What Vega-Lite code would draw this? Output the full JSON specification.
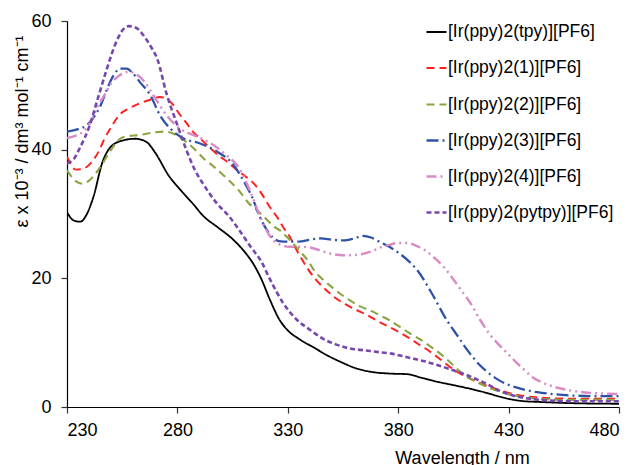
{
"$schema": "https://vega.github.io/schema/vega-lite/v6.json",
"autosize": {"type": "none"},
"padding": {"left": 67, "top": 21, "right": 16, "bottom": 58},
"width": 552,
"height": 386,
"background": "white",
"config": {
  "font": "Liberation Sans",
  "view": {"stroke": null},
  "axis": {"grid": false, "domainColor": "#000000", "tickColor": "#333333", "labelColor": "#000000", "titleColor": "#000000", "labelFont": "Liberation Sans", "titleFont": "Liberation Sans", "labelFontSize": 18, "titleFontSize": 18, "titleFontWeight": "normal", "tickSize": 6, "domainWidth": 1.2, "tickWidth": 1.2}
},
"data": {"values": [
{"s":"[Ir(ppy)2(tpy)][PF6]","x":230,"y":30.3},{"s":"[Ir(ppy)2(tpy)][PF6]","x":233,"y":29.0},{"s":"[Ir(ppy)2(tpy)][PF6]","x":236,"y":28.8},{"s":"[Ir(ppy)2(tpy)][PF6]","x":239,"y":30.0},{"s":"[Ir(ppy)2(tpy)][PF6]","x":242,"y":32.7},{"s":"[Ir(ppy)2(tpy)][PF6]","x":246,"y":38.0},{"s":"[Ir(ppy)2(tpy)][PF6]","x":250,"y":40.5},{"s":"[Ir(ppy)2(tpy)][PF6]","x":255,"y":41.4},{"s":"[Ir(ppy)2(tpy)][PF6]","x":261,"y":41.7},{"s":"[Ir(ppy)2(tpy)][PF6]","x":266,"y":41.2},{"s":"[Ir(ppy)2(tpy)][PF6]","x":270,"y":39.5},{"s":"[Ir(ppy)2(tpy)][PF6]","x":276,"y":36.0},{"s":"[Ir(ppy)2(tpy)][PF6]","x":282,"y":33.5},{"s":"[Ir(ppy)2(tpy)][PF6]","x":287,"y":31.6},{"s":"[Ir(ppy)2(tpy)][PF6]","x":292,"y":29.6},{"s":"[Ir(ppy)2(tpy)][PF6]","x":298,"y":28.0},{"s":"[Ir(ppy)2(tpy)][PF6]","x":305,"y":26.1},{"s":"[Ir(ppy)2(tpy)][PF6]","x":310,"y":24.3},{"s":"[Ir(ppy)2(tpy)][PF6]","x":315,"y":21.9},{"s":"[Ir(ppy)2(tpy)][PF6]","x":318,"y":19.9},{"s":"[Ir(ppy)2(tpy)][PF6]","x":322,"y":16.6},{"s":"[Ir(ppy)2(tpy)][PF6]","x":326,"y":13.7},{"s":"[Ir(ppy)2(tpy)][PF6]","x":330,"y":11.9},{"s":"[Ir(ppy)2(tpy)][PF6]","x":335,"y":10.6},{"s":"[Ir(ppy)2(tpy)][PF6]","x":342,"y":9.2},{"s":"[Ir(ppy)2(tpy)][PF6]","x":348,"y":8.0},{"s":"[Ir(ppy)2(tpy)][PF6]","x":354,"y":7.0},{"s":"[Ir(ppy)2(tpy)][PF6]","x":361,"y":6.0},{"s":"[Ir(ppy)2(tpy)][PF6]","x":369,"y":5.4},{"s":"[Ir(ppy)2(tpy)][PF6]","x":376,"y":5.2},{"s":"[Ir(ppy)2(tpy)][PF6]","x":384,"y":5.1},{"s":"[Ir(ppy)2(tpy)][PF6]","x":391,"y":4.5},{"s":"[Ir(ppy)2(tpy)][PF6]","x":398,"y":3.9},{"s":"[Ir(ppy)2(tpy)][PF6]","x":405,"y":3.4},{"s":"[Ir(ppy)2(tpy)][PF6]","x":413,"y":2.8},{"s":"[Ir(ppy)2(tpy)][PF6]","x":420,"y":2.2},{"s":"[Ir(ppy)2(tpy)][PF6]","x":426,"y":1.6},{"s":"[Ir(ppy)2(tpy)][PF6]","x":431,"y":1.2},{"s":"[Ir(ppy)2(tpy)][PF6]","x":437,"y":0.9},{"s":"[Ir(ppy)2(tpy)][PF6]","x":443,"y":0.8},{"s":"[Ir(ppy)2(tpy)][PF6]","x":458,"y":0.6},{"s":"[Ir(ppy)2(tpy)][PF6]","x":480,"y":0.5},
{"s":"[Ir(ppy)2(1)][PF6]","x":230,"y":38.9},{"s":"[Ir(ppy)2(1)][PF6]","x":234,"y":36.9},{"s":"[Ir(ppy)2(1)][PF6]","x":237,"y":37.0},{"s":"[Ir(ppy)2(1)][PF6]","x":241,"y":38.0},{"s":"[Ir(ppy)2(1)][PF6]","x":244,"y":39.5},{"s":"[Ir(ppy)2(1)][PF6]","x":247,"y":41.7},{"s":"[Ir(ppy)2(1)][PF6]","x":250,"y":43.5},{"s":"[Ir(ppy)2(1)][PF6]","x":254,"y":45.5},{"s":"[Ir(ppy)2(1)][PF6]","x":258,"y":46.4},{"s":"[Ir(ppy)2(1)][PF6]","x":263,"y":47.2},{"s":"[Ir(ppy)2(1)][PF6]","x":268,"y":47.8},{"s":"[Ir(ppy)2(1)][PF6]","x":272,"y":48.2},{"s":"[Ir(ppy)2(1)][PF6]","x":275,"y":47.9},{"s":"[Ir(ppy)2(1)][PF6]","x":278,"y":47.0},{"s":"[Ir(ppy)2(1)][PF6]","x":281,"y":45.5},{"s":"[Ir(ppy)2(1)][PF6]","x":284,"y":44.2},{"s":"[Ir(ppy)2(1)][PF6]","x":287,"y":42.8},{"s":"[Ir(ppy)2(1)][PF6]","x":291,"y":41.5},{"s":"[Ir(ppy)2(1)][PF6]","x":295,"y":40.2},{"s":"[Ir(ppy)2(1)][PF6]","x":299,"y":39.0},{"s":"[Ir(ppy)2(1)][PF6]","x":303,"y":38.0},{"s":"[Ir(ppy)2(1)][PF6]","x":307,"y":36.8},{"s":"[Ir(ppy)2(1)][PF6]","x":311,"y":35.8},{"s":"[Ir(ppy)2(1)][PF6]","x":315,"y":34.6},{"s":"[Ir(ppy)2(1)][PF6]","x":319,"y":32.7},{"s":"[Ir(ppy)2(1)][PF6]","x":322,"y":31.0},{"s":"[Ir(ppy)2(1)][PF6]","x":325,"y":29.6},{"s":"[Ir(ppy)2(1)][PF6]","x":328,"y":27.9},{"s":"[Ir(ppy)2(1)][PF6]","x":331,"y":26.4},{"s":"[Ir(ppy)2(1)][PF6]","x":334,"y":24.4},{"s":"[Ir(ppy)2(1)][PF6]","x":337,"y":22.6},{"s":"[Ir(ppy)2(1)][PF6]","x":340,"y":21.0},{"s":"[Ir(ppy)2(1)][PF6]","x":343,"y":19.7},{"s":"[Ir(ppy)2(1)][PF6]","x":347,"y":18.3},{"s":"[Ir(ppy)2(1)][PF6]","x":351,"y":17.1},{"s":"[Ir(ppy)2(1)][PF6]","x":356,"y":16.0},{"s":"[Ir(ppy)2(1)][PF6]","x":361,"y":15.1},{"s":"[Ir(ppy)2(1)][PF6]","x":366,"y":14.3},{"s":"[Ir(ppy)2(1)][PF6]","x":370,"y":13.5},{"s":"[Ir(ppy)2(1)][PF6]","x":375,"y":12.6},{"s":"[Ir(ppy)2(1)][PF6]","x":380,"y":11.7},{"s":"[Ir(ppy)2(1)][PF6]","x":385,"y":10.7},{"s":"[Ir(ppy)2(1)][PF6]","x":389,"y":9.8},{"s":"[Ir(ppy)2(1)][PF6]","x":394,"y":8.7},{"s":"[Ir(ppy)2(1)][PF6]","x":398,"y":7.7},{"s":"[Ir(ppy)2(1)][PF6]","x":402,"y":6.6},{"s":"[Ir(ppy)2(1)][PF6]","x":407,"y":5.4},{"s":"[Ir(ppy)2(1)][PF6]","x":414,"y":4.2},{"s":"[Ir(ppy)2(1)][PF6]","x":420,"y":3.3},{"s":"[Ir(ppy)2(1)][PF6]","x":426,"y":2.6},{"s":"[Ir(ppy)2(1)][PF6]","x":431,"y":2.1},{"s":"[Ir(ppy)2(1)][PF6]","x":437,"y":1.7},{"s":"[Ir(ppy)2(1)][PF6]","x":443,"y":1.5},{"s":"[Ir(ppy)2(1)][PF6]","x":458,"y":1.3},{"s":"[Ir(ppy)2(1)][PF6]","x":480,"y":1.3},
{"s":"[Ir(ppy)2(2)][PF6]","x":230,"y":36.8},{"s":"[Ir(ppy)2(2)][PF6]","x":234,"y":35.1},{"s":"[Ir(ppy)2(2)][PF6]","x":237,"y":34.7},{"s":"[Ir(ppy)2(2)][PF6]","x":240,"y":35.2},{"s":"[Ir(ppy)2(2)][PF6]","x":243,"y":36.3},{"s":"[Ir(ppy)2(2)][PF6]","x":246,"y":37.8},{"s":"[Ir(ppy)2(2)][PF6]","x":250,"y":40.0},{"s":"[Ir(ppy)2(2)][PF6]","x":253,"y":41.4},{"s":"[Ir(ppy)2(2)][PF6]","x":256,"y":42.0},{"s":"[Ir(ppy)2(2)][PF6]","x":263,"y":42.3},{"s":"[Ir(ppy)2(2)][PF6]","x":270,"y":42.7},{"s":"[Ir(ppy)2(2)][PF6]","x":274,"y":42.8},{"s":"[Ir(ppy)2(2)][PF6]","x":278,"y":42.5},{"s":"[Ir(ppy)2(2)][PF6]","x":281,"y":41.9},{"s":"[Ir(ppy)2(2)][PF6]","x":284,"y":41.2},{"s":"[Ir(ppy)2(2)][PF6]","x":288,"y":40.0},{"s":"[Ir(ppy)2(2)][PF6]","x":292,"y":38.6},{"s":"[Ir(ppy)2(2)][PF6]","x":296,"y":37.5},{"s":"[Ir(ppy)2(2)][PF6]","x":300,"y":36.3},{"s":"[Ir(ppy)2(2)][PF6]","x":304,"y":35.0},{"s":"[Ir(ppy)2(2)][PF6]","x":308,"y":33.6},{"s":"[Ir(ppy)2(2)][PF6]","x":312,"y":31.8},{"s":"[Ir(ppy)2(2)][PF6]","x":316,"y":30.6},{"s":"[Ir(ppy)2(2)][PF6]","x":320,"y":29.3},{"s":"[Ir(ppy)2(2)][PF6]","x":324,"y":28.0},{"s":"[Ir(ppy)2(2)][PF6]","x":327,"y":27.3},{"s":"[Ir(ppy)2(2)][PF6]","x":330,"y":26.3},{"s":"[Ir(ppy)2(2)][PF6]","x":333,"y":25.2},{"s":"[Ir(ppy)2(2)][PF6]","x":336,"y":24.0},{"s":"[Ir(ppy)2(2)][PF6]","x":339,"y":22.8},{"s":"[Ir(ppy)2(2)][PF6]","x":342,"y":21.2},{"s":"[Ir(ppy)2(2)][PF6]","x":345,"y":20.1},{"s":"[Ir(ppy)2(2)][PF6]","x":349,"y":18.9},{"s":"[Ir(ppy)2(2)][PF6]","x":353,"y":17.8},{"s":"[Ir(ppy)2(2)][PF6]","x":358,"y":16.6},{"s":"[Ir(ppy)2(2)][PF6]","x":363,"y":15.6},{"s":"[Ir(ppy)2(2)][PF6]","x":368,"y":14.9},{"s":"[Ir(ppy)2(2)][PF6]","x":372,"y":14.2},{"s":"[Ir(ppy)2(2)][PF6]","x":377,"y":13.3},{"s":"[Ir(ppy)2(2)][PF6]","x":381,"y":12.4},{"s":"[Ir(ppy)2(2)][PF6]","x":386,"y":11.3},{"s":"[Ir(ppy)2(2)][PF6]","x":390,"y":10.5},{"s":"[Ir(ppy)2(2)][PF6]","x":395,"y":9.3},{"s":"[Ir(ppy)2(2)][PF6]","x":399,"y":8.3},{"s":"[Ir(ppy)2(2)][PF6]","x":404,"y":6.8},{"s":"[Ir(ppy)2(2)][PF6]","x":408,"y":5.5},{"s":"[Ir(ppy)2(2)][PF6]","x":412,"y":4.5},{"s":"[Ir(ppy)2(2)][PF6]","x":416,"y":3.8},{"s":"[Ir(ppy)2(2)][PF6]","x":421,"y":3.0},{"s":"[Ir(ppy)2(2)][PF6]","x":426,"y":2.4},{"s":"[Ir(ppy)2(2)][PF6]","x":431,"y":1.9},{"s":"[Ir(ppy)2(2)][PF6]","x":437,"y":1.5},{"s":"[Ir(ppy)2(2)][PF6]","x":443,"y":1.3},{"s":"[Ir(ppy)2(2)][PF6]","x":458,"y":1.1},{"s":"[Ir(ppy)2(2)][PF6]","x":480,"y":1.1},
{"s":"[Ir(ppy)2(3)][PF6]","x":230,"y":42.8},{"s":"[Ir(ppy)2(3)][PF6]","x":235,"y":43.2},{"s":"[Ir(ppy)2(3)][PF6]","x":239,"y":43.8},{"s":"[Ir(ppy)2(3)][PF6]","x":242,"y":45.0},{"s":"[Ir(ppy)2(3)][PF6]","x":245,"y":46.7},{"s":"[Ir(ppy)2(3)][PF6]","x":248,"y":49.3},{"s":"[Ir(ppy)2(3)][PF6]","x":251,"y":51.5},{"s":"[Ir(ppy)2(3)][PF6]","x":254,"y":52.6},{"s":"[Ir(ppy)2(3)][PF6]","x":257,"y":52.6},{"s":"[Ir(ppy)2(3)][PF6]","x":260,"y":51.8},{"s":"[Ir(ppy)2(3)][PF6]","x":263,"y":50.5},{"s":"[Ir(ppy)2(3)][PF6]","x":268,"y":48.3},{"s":"[Ir(ppy)2(3)][PF6]","x":272,"y":45.4},{"s":"[Ir(ppy)2(3)][PF6]","x":277,"y":43.2},{"s":"[Ir(ppy)2(3)][PF6]","x":283,"y":41.7},{"s":"[Ir(ppy)2(3)][PF6]","x":290,"y":41.0},{"s":"[Ir(ppy)2(3)][PF6]","x":298,"y":39.7},{"s":"[Ir(ppy)2(3)][PF6]","x":305,"y":37.8},{"s":"[Ir(ppy)2(3)][PF6]","x":311,"y":34.5},{"s":"[Ir(ppy)2(3)][PF6]","x":314,"y":32.5},{"s":"[Ir(ppy)2(3)][PF6]","x":317,"y":29.8},{"s":"[Ir(ppy)2(3)][PF6]","x":320,"y":27.8},{"s":"[Ir(ppy)2(3)][PF6]","x":323,"y":26.4},{"s":"[Ir(ppy)2(3)][PF6]","x":326,"y":25.8},{"s":"[Ir(ppy)2(3)][PF6]","x":330,"y":25.7},{"s":"[Ir(ppy)2(3)][PF6]","x":335,"y":25.7},{"s":"[Ir(ppy)2(3)][PF6]","x":340,"y":26.0},{"s":"[Ir(ppy)2(3)][PF6]","x":345,"y":26.2},{"s":"[Ir(ppy)2(3)][PF6]","x":350,"y":26.0},{"s":"[Ir(ppy)2(3)][PF6]","x":355,"y":25.9},{"s":"[Ir(ppy)2(3)][PF6]","x":360,"y":26.2},{"s":"[Ir(ppy)2(3)][PF6]","x":364,"y":26.6},{"s":"[Ir(ppy)2(3)][PF6]","x":368,"y":26.3},{"s":"[Ir(ppy)2(3)][PF6]","x":372,"y":25.6},{"s":"[Ir(ppy)2(3)][PF6]","x":376,"y":24.9},{"s":"[Ir(ppy)2(3)][PF6]","x":380,"y":24.0},{"s":"[Ir(ppy)2(3)][PF6]","x":385,"y":22.6},{"s":"[Ir(ppy)2(3)][PF6]","x":389,"y":21.1},{"s":"[Ir(ppy)2(3)][PF6]","x":395,"y":17.8},{"s":"[Ir(ppy)2(3)][PF6]","x":402,"y":13.5},{"s":"[Ir(ppy)2(3)][PF6]","x":407,"y":11.0},{"s":"[Ir(ppy)2(3)][PF6]","x":411,"y":9.0},{"s":"[Ir(ppy)2(3)][PF6]","x":417,"y":6.5},{"s":"[Ir(ppy)2(3)][PF6]","x":422,"y":5.0},{"s":"[Ir(ppy)2(3)][PF6]","x":426,"y":4.1},{"s":"[Ir(ppy)2(3)][PF6]","x":431,"y":3.3},{"s":"[Ir(ppy)2(3)][PF6]","x":437,"y":2.7},{"s":"[Ir(ppy)2(3)][PF6]","x":443,"y":2.3},{"s":"[Ir(ppy)2(3)][PF6]","x":450,"y":2.0},{"s":"[Ir(ppy)2(3)][PF6]","x":458,"y":1.8},{"s":"[Ir(ppy)2(3)][PF6]","x":470,"y":1.7},{"s":"[Ir(ppy)2(3)][PF6]","x":480,"y":1.7},
{"s":"[Ir(ppy)2(4)][PF6]","x":230,"y":41.8},{"s":"[Ir(ppy)2(4)][PF6]","x":234,"y":42.2},{"s":"[Ir(ppy)2(4)][PF6]","x":238,"y":43.0},{"s":"[Ir(ppy)2(4)][PF6]","x":241,"y":44.5},{"s":"[Ir(ppy)2(4)][PF6]","x":244,"y":46.8},{"s":"[Ir(ppy)2(4)][PF6]","x":247,"y":48.5},{"s":"[Ir(ppy)2(4)][PF6]","x":250,"y":50.3},{"s":"[Ir(ppy)2(4)][PF6]","x":254,"y":51.6},{"s":"[Ir(ppy)2(4)][PF6]","x":258,"y":52.1},{"s":"[Ir(ppy)2(4)][PF6]","x":261,"y":51.8},{"s":"[Ir(ppy)2(4)][PF6]","x":265,"y":50.6},{"s":"[Ir(ppy)2(4)][PF6]","x":269,"y":48.5},{"s":"[Ir(ppy)2(4)][PF6]","x":275,"y":45.4},{"s":"[Ir(ppy)2(4)][PF6]","x":281,"y":43.3},{"s":"[Ir(ppy)2(4)][PF6]","x":287,"y":42.3},{"s":"[Ir(ppy)2(4)][PF6]","x":295,"y":41.0},{"s":"[Ir(ppy)2(4)][PF6]","x":302,"y":39.2},{"s":"[Ir(ppy)2(4)][PF6]","x":308,"y":37.1},{"s":"[Ir(ppy)2(4)][PF6]","x":313,"y":33.5},{"s":"[Ir(ppy)2(4)][PF6]","x":317,"y":30.0},{"s":"[Ir(ppy)2(4)][PF6]","x":322,"y":26.5},{"s":"[Ir(ppy)2(4)][PF6]","x":326,"y":25.3},{"s":"[Ir(ppy)2(4)][PF6]","x":331,"y":24.9},{"s":"[Ir(ppy)2(4)][PF6]","x":336,"y":24.9},{"s":"[Ir(ppy)2(4)][PF6]","x":340,"y":24.8},{"s":"[Ir(ppy)2(4)][PF6]","x":345,"y":24.3},{"s":"[Ir(ppy)2(4)][PF6]","x":350,"y":23.8},{"s":"[Ir(ppy)2(4)][PF6]","x":355,"y":23.6},{"s":"[Ir(ppy)2(4)][PF6]","x":359,"y":23.6},{"s":"[Ir(ppy)2(4)][PF6]","x":364,"y":23.8},{"s":"[Ir(ppy)2(4)][PF6]","x":368,"y":24.2},{"s":"[Ir(ppy)2(4)][PF6]","x":372,"y":24.8},{"s":"[Ir(ppy)2(4)][PF6]","x":376,"y":25.2},{"s":"[Ir(ppy)2(4)][PF6]","x":380,"y":25.5},{"s":"[Ir(ppy)2(4)][PF6]","x":384,"y":25.5},{"s":"[Ir(ppy)2(4)][PF6]","x":388,"y":25.1},{"s":"[Ir(ppy)2(4)][PF6]","x":392,"y":24.4},{"s":"[Ir(ppy)2(4)][PF6]","x":396,"y":23.3},{"s":"[Ir(ppy)2(4)][PF6]","x":400,"y":22.0},{"s":"[Ir(ppy)2(4)][PF6]","x":404,"y":20.3},{"s":"[Ir(ppy)2(4)][PF6]","x":408,"y":18.4},{"s":"[Ir(ppy)2(4)][PF6]","x":413,"y":16.0},{"s":"[Ir(ppy)2(4)][PF6]","x":417,"y":13.6},{"s":"[Ir(ppy)2(4)][PF6]","x":421,"y":11.5},{"s":"[Ir(ppy)2(4)][PF6]","x":425,"y":9.9},{"s":"[Ir(ppy)2(4)][PF6]","x":429,"y":8.5},{"s":"[Ir(ppy)2(4)][PF6]","x":433,"y":7.1},{"s":"[Ir(ppy)2(4)][PF6]","x":437,"y":5.8},{"s":"[Ir(ppy)2(4)][PF6]","x":441,"y":4.6},{"s":"[Ir(ppy)2(4)][PF6]","x":446,"y":3.7},{"s":"[Ir(ppy)2(4)][PF6]","x":451,"y":3.1},{"s":"[Ir(ppy)2(4)][PF6]","x":456,"y":2.7},{"s":"[Ir(ppy)2(4)][PF6]","x":461,"y":2.4},{"s":"[Ir(ppy)2(4)][PF6]","x":467,"y":2.2},{"s":"[Ir(ppy)2(4)][PF6]","x":473,"y":2.1},{"s":"[Ir(ppy)2(4)][PF6]","x":480,"y":2.0},
{"s":"[Ir(ppy)2(pytpy)][PF6]","x":230,"y":37.9},{"s":"[Ir(ppy)2(pytpy)][PF6]","x":233,"y":38.5},{"s":"[Ir(ppy)2(pytpy)][PF6]","x":236,"y":40.4},{"s":"[Ir(ppy)2(pytpy)][PF6]","x":240,"y":43.5},{"s":"[Ir(ppy)2(pytpy)][PF6]","x":244,"y":48.0},{"s":"[Ir(ppy)2(pytpy)][PF6]","x":248,"y":52.5},{"s":"[Ir(ppy)2(pytpy)][PF6]","x":252,"y":56.5},{"s":"[Ir(ppy)2(pytpy)][PF6]","x":255,"y":58.5},{"s":"[Ir(ppy)2(pytpy)][PF6]","x":258,"y":59.2},{"s":"[Ir(ppy)2(pytpy)][PF6]","x":261,"y":59.0},{"s":"[Ir(ppy)2(pytpy)][PF6]","x":265,"y":57.6},{"s":"[Ir(ppy)2(pytpy)][PF6]","x":268,"y":56.0},{"s":"[Ir(ppy)2(pytpy)][PF6]","x":271,"y":54.0},{"s":"[Ir(ppy)2(pytpy)][PF6]","x":275,"y":48.8},{"s":"[Ir(ppy)2(pytpy)][PF6]","x":280,"y":43.8},{"s":"[Ir(ppy)2(pytpy)][PF6]","x":284,"y":40.0},{"s":"[Ir(ppy)2(pytpy)][PF6]","x":288,"y":36.8},{"s":"[Ir(ppy)2(pytpy)][PF6]","x":292,"y":34.5},{"s":"[Ir(ppy)2(pytpy)][PF6]","x":298,"y":31.6},{"s":"[Ir(ppy)2(pytpy)][PF6]","x":303,"y":29.8},{"s":"[Ir(ppy)2(pytpy)][PF6]","x":308,"y":27.5},{"s":"[Ir(ppy)2(pytpy)][PF6]","x":313,"y":25.0},{"s":"[Ir(ppy)2(pytpy)][PF6]","x":318,"y":22.6},{"s":"[Ir(ppy)2(pytpy)][PF6]","x":322,"y":19.8},{"s":"[Ir(ppy)2(pytpy)][PF6]","x":328,"y":16.1},{"s":"[Ir(ppy)2(pytpy)][PF6]","x":334,"y":13.6},{"s":"[Ir(ppy)2(pytpy)][PF6]","x":340,"y":12.0},{"s":"[Ir(ppy)2(pytpy)][PF6]","x":346,"y":10.6},{"s":"[Ir(ppy)2(pytpy)][PF6]","x":352,"y":9.7},{"s":"[Ir(ppy)2(pytpy)][PF6]","x":358,"y":9.1},{"s":"[Ir(ppy)2(pytpy)][PF6]","x":365,"y":8.8},{"s":"[Ir(ppy)2(pytpy)][PF6]","x":372,"y":8.5},{"s":"[Ir(ppy)2(pytpy)][PF6]","x":377,"y":8.3},{"s":"[Ir(ppy)2(pytpy)][PF6]","x":382,"y":7.9},{"s":"[Ir(ppy)2(pytpy)][PF6]","x":387,"y":7.5},{"s":"[Ir(ppy)2(pytpy)][PF6]","x":392,"y":7.1},{"s":"[Ir(ppy)2(pytpy)][PF6]","x":398,"y":6.5},{"s":"[Ir(ppy)2(pytpy)][PF6]","x":405,"y":5.7},{"s":"[Ir(ppy)2(pytpy)][PF6]","x":410,"y":5.1},{"s":"[Ir(ppy)2(pytpy)][PF6]","x":415,"y":4.4},{"s":"[Ir(ppy)2(pytpy)][PF6]","x":420,"y":3.6},{"s":"[Ir(ppy)2(pytpy)][PF6]","x":426,"y":2.5},{"s":"[Ir(ppy)2(pytpy)][PF6]","x":431,"y":1.9},{"s":"[Ir(ppy)2(pytpy)][PF6]","x":437,"y":1.4},{"s":"[Ir(ppy)2(pytpy)][PF6]","x":443,"y":1.15},{"s":"[Ir(ppy)2(pytpy)][PF6]","x":458,"y":0.9},{"s":"[Ir(ppy)2(pytpy)][PF6]","x":480,"y":0.9}
]},
"mark": {"type": "line", "interpolate": "monotone", "strokeCap": "butt", "clip": true},
"encoding": {
  "x": {"field": "x", "type": "quantitative", "scale": {"domain": [230, 480], "nice": false, "zero": false},
        "axis": {"values": [230, 280, 330, 380, 430, 480], "labelPadding": 8, "title": "Wavelength / nm", "titleX": 395, "titleY": 56, "titleBaseline": "alphabetic", "titleAnchor": null, "titleAlign": "center"}},
  "y": {"field": "y", "type": "quantitative", "scale": {"domain": [0, 60], "nice": false},
        "axis": {"values": [0, 20, 40, 60], "labelPadding": 10, "title": "ε x 10⁻³ / dm³ mol⁻¹ cm⁻¹", "titleX": -45, "titleY": 110, "titleAngle": 270, "titleAlign": "center", "titleBaseline": "middle"}},
  "color": {"field": "s", "type": "nominal",
     "scale": {"domain": ["[Ir(ppy)2(tpy)][PF6]", "[Ir(ppy)2(1)][PF6]", "[Ir(ppy)2(2)][PF6]", "[Ir(ppy)2(3)][PF6]", "[Ir(ppy)2(4)][PF6]", "[Ir(ppy)2(pytpy)][PF6]"],
               "range": ["#000000", "#FF1F1F", "#8BA542", "#2F52A8", "#D98BC7", "#7647AD"]},
     "legend": {"orient": "none", "legendX": 358, "legendY": 0, "title": null, "symbolType": "stroke", "symbolSize": 400, "symbolStrokeWidth": 2.5, "labelFont": "Liberation Sans", "labelFontSize": 17.5, "labelColor": "#000000", "labelOffset": 0, "rowPadding": 16, "labelLimit": 300}},
  "strokeDash": {"field": "s", "type": "nominal",
     "scale": {"domain": ["[Ir(ppy)2(tpy)][PF6]", "[Ir(ppy)2(1)][PF6]", "[Ir(ppy)2(2)][PF6]", "[Ir(ppy)2(3)][PF6]", "[Ir(ppy)2(4)][PF6]", "[Ir(ppy)2(pytpy)][PF6]"],
               "range": [[1, 0], [8, 5], [8, 5], [12, 4, 2, 4], [10, 4, 2, 4, 2, 4], [5, 3]]}},
  "strokeWidth": {"field": "s", "type": "nominal", "legend": null,
     "scale": {"domain": ["[Ir(ppy)2(tpy)][PF6]", "[Ir(ppy)2(1)][PF6]", "[Ir(ppy)2(2)][PF6]", "[Ir(ppy)2(3)][PF6]", "[Ir(ppy)2(4)][PF6]", "[Ir(ppy)2(pytpy)][PF6]"],
               "range": [1.8, 2.6, 2.6, 2.6, 2.6, 2.6]}}
}
}
